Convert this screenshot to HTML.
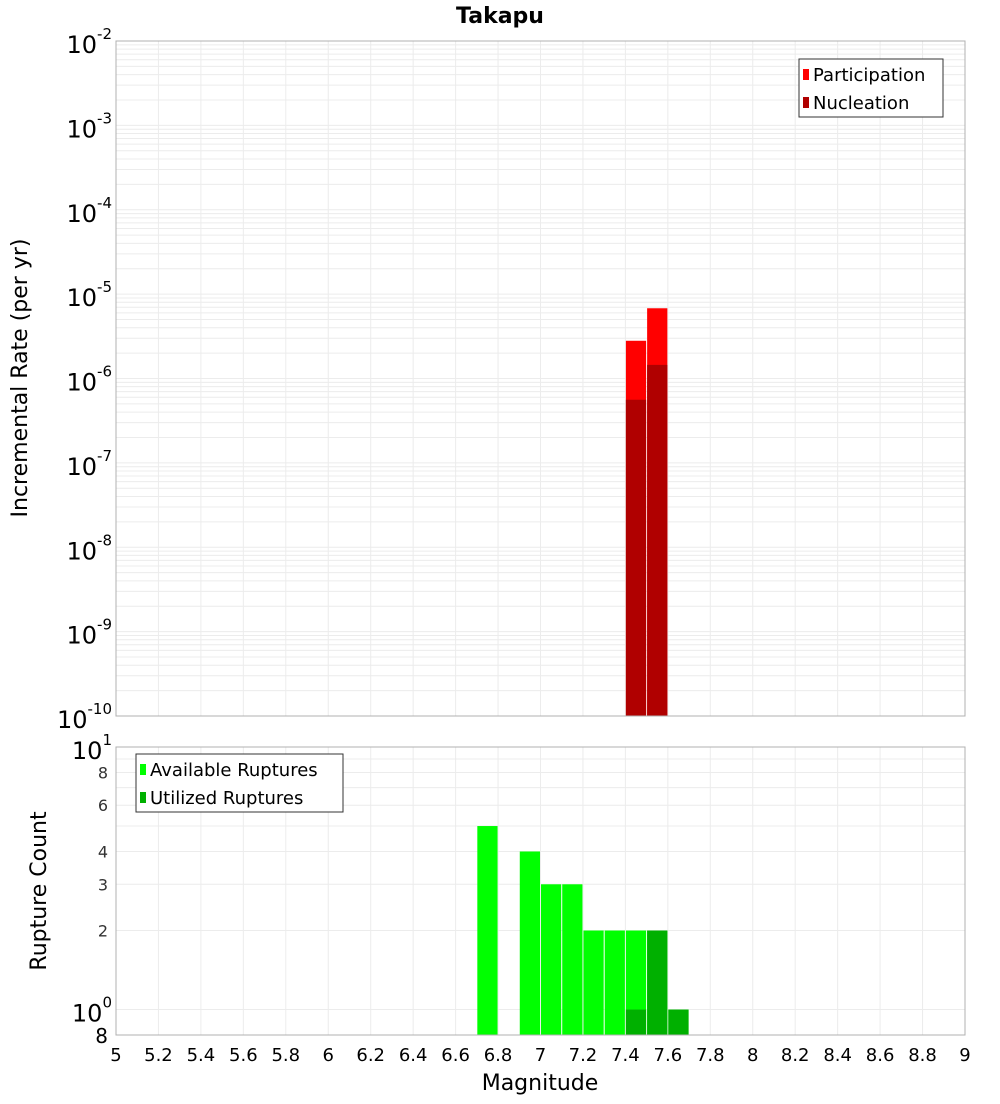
<!DOCTYPE html>
<html><head><meta charset="utf-8"><style>
body{margin:0;background:#fff;font-family:"DejaVu Sans","Liberation Sans",sans-serif}
</style></head><body>
<svg id="c" width="1000" height="1100" xmlns="http://www.w3.org/2000/svg" font-family="DejaVu Sans, Liberation Sans, sans-serif">
<text x="500" y="23" text-anchor="middle" font-size="22" font-weight="bold">Takapu</text>
<g id="gtop"></g><g id="gbot"></g>
<text transform="translate(27,378) rotate(-90)" text-anchor="middle" font-size="22">Incremental Rate (per yr)</text>
<text transform="translate(46,891) rotate(-90)" text-anchor="middle" font-size="22">Rupture Count</text>
<text x="540" y="1090" text-anchor="middle" font-size="22">Magnitude</text>
</svg>
<script>
const mags=[7.45,7.55];
const participation=[2.8e-6,6.8e-6];
const nucleation=[5.6e-7,1.45e-6];
const availMags=[6.75,6.95,7.05,7.15,7.25,7.35,7.45,7.55,7.65];
const available=[5,4,3,3,2,2,2,2,1];
const utilMags=[7.45,7.55,7.65];
const utilized=[1,2,1];
const xTicks=[5,5.2,5.4,5.6,5.8,6,6.2,6.4,6.6,6.8,7,7.2,7.4,7.6,7.8,8,8.2,8.4,8.6,8.8,9];
const topExps=[-2,-3,-4,-5,-6,-7,-8,-9,-10];
const botTicks=[2,3,4,6,8];

const NS="http://www.w3.org/2000/svg";
const L=116,R=965,T1=41,B1=716,T2=747,B2=1035;
const X=m=>L+(m-5)*(R-L)/4;
const Y1=v=>T1+(-2-Math.log10(v))*(B1-T1)/8;
const lo=Math.log10(0.8),hi=1;
const Y2=v=>B2-(Math.log10(v)-lo)*(B2-T2)/(hi-lo);
function el(p,t,a,txt){const e=document.createElementNS(NS,t);for(const k in a)e.setAttribute(k,a[k]);if(txt!==undefined)e.textContent=txt;p.appendChild(e);return e;}
const gTop=document.getElementById('gtop'),gBot=document.getElementById('gbot');

for(let d=-10;d<-2;d++)for(let k=1;k<10;k++){const y=Y1(k*Math.pow(10,d));const g=el(gTop,'line',{x1:L,x2:R,y1:y,y2:y,stroke:'#ececec','stroke-width':1});

}
[1,2,3,4,5,6,7,8,9,10].forEach(v=>{const y=Y2(v);const g=el(gBot,'line',{x1:L,x2:R,y1:y,y2:y,stroke:'#ececec','stroke-width':1});

});
xTicks.forEach(m=>{const x=X(m);[[T1,B1,gTop],[T2,B2,gBot]].forEach(([a,b,p])=>{const g=el(p,'line',{x1:x,x2:x,y1:a,y2:b,stroke:'#ececec','stroke-width':1});

});});

mags.forEach((m,i)=>{const x0=X(m-0.05)+0.5,x1=X(m+0.05)-0.5;
const p=el(gTop,'rect',{x:x0,y:Y1(participation[i]),width:x1-x0,height:B1-Y1(participation[i]),fill:'#ff0000'});


const n=el(gTop,'rect',{x:x0,y:Y1(nucleation[i]),width:x1-x0,height:B1-Y1(nucleation[i]),fill:'#b00000'});

});
availMags.forEach((m,i)=>{const x0=X(m-0.05)+0.5,x1=X(m+0.05)-0.5;
const r=el(gBot,'rect',{x:x0,y:Y2(available[i]),width:x1-x0,height:B2-Y2(available[i]),fill:'#00ff00'});

});
utilMags.forEach((m,i)=>{const x0=X(m-0.05)+0.5,x1=X(m+0.05)-0.5;
const r=el(gBot,'rect',{x:x0,y:Y2(utilized[i]),width:x1-x0,height:B2-Y2(utilized[i]),fill:'#00b000'});

});

[[T1,B1,gTop],[T2,B2,gBot]].forEach(([a,b,p])=>{const f=el(p,'rect',{x:L,y:a,width:R-L,height:b-a,fill:'none',stroke:'#b0b0b0','stroke-width':1});

});

topExps.forEach(e=>{const y=Y1(Math.pow(10,e));const t=el(gTop,'text',{x:L-4,y:y+12,'text-anchor':'end','font-size':24});


el(t,'tspan',{},'10');el(t,'tspan',{dy:-14,'font-size':15},String(e));});
botTicks.forEach(v=>{const t=el(gBot,'text',{x:L-8,y:Y2(v)+6,'text-anchor':'end','font-size':16,fill:'#333'},String(v));

});
[[1,'0'],[10,'1']].forEach(([v,e])=>{const t=el(gBot,'text',{x:L-4,y:Y2(v)+12,'text-anchor':'end','font-size':24});


el(t,'tspan',{},'10');el(t,'tspan',{dy:-14,'font-size':15},e);});
{const t=el(gBot,'text',{x:L-8,y:B2+8,'text-anchor':'end','font-size':20},'8');

}
xTicks.forEach(m=>{const t=el(gBot,'text',{x:X(m),y:1061,'text-anchor':'middle','font-size':18},String(m));

});

function legend(p,x,y,w,items,name){const g=el(p,'g',{});


el(g,'rect',{x:x,y:y,width:w,height:58,fill:'#fff',stroke:'#333','stroke-width':1});
items.forEach((it,i)=>{el(g,'rect',{x:x+4,y:y+10+i*28,width:6,height:11,fill:it[1]});
el(g,'text',{x:x+14,y:y+22+i*28,'font-size':18},it[0]);});}
legend(gTop,799,59,144,[['Participation','#ff0000'],['Nucleation','#b00000']],'legend-rate');
legend(gBot,136,754,207,[['Available Ruptures','#00ff00'],['Utilized Ruptures','#00b000']],'legend-count');
</script>
</body></html>
